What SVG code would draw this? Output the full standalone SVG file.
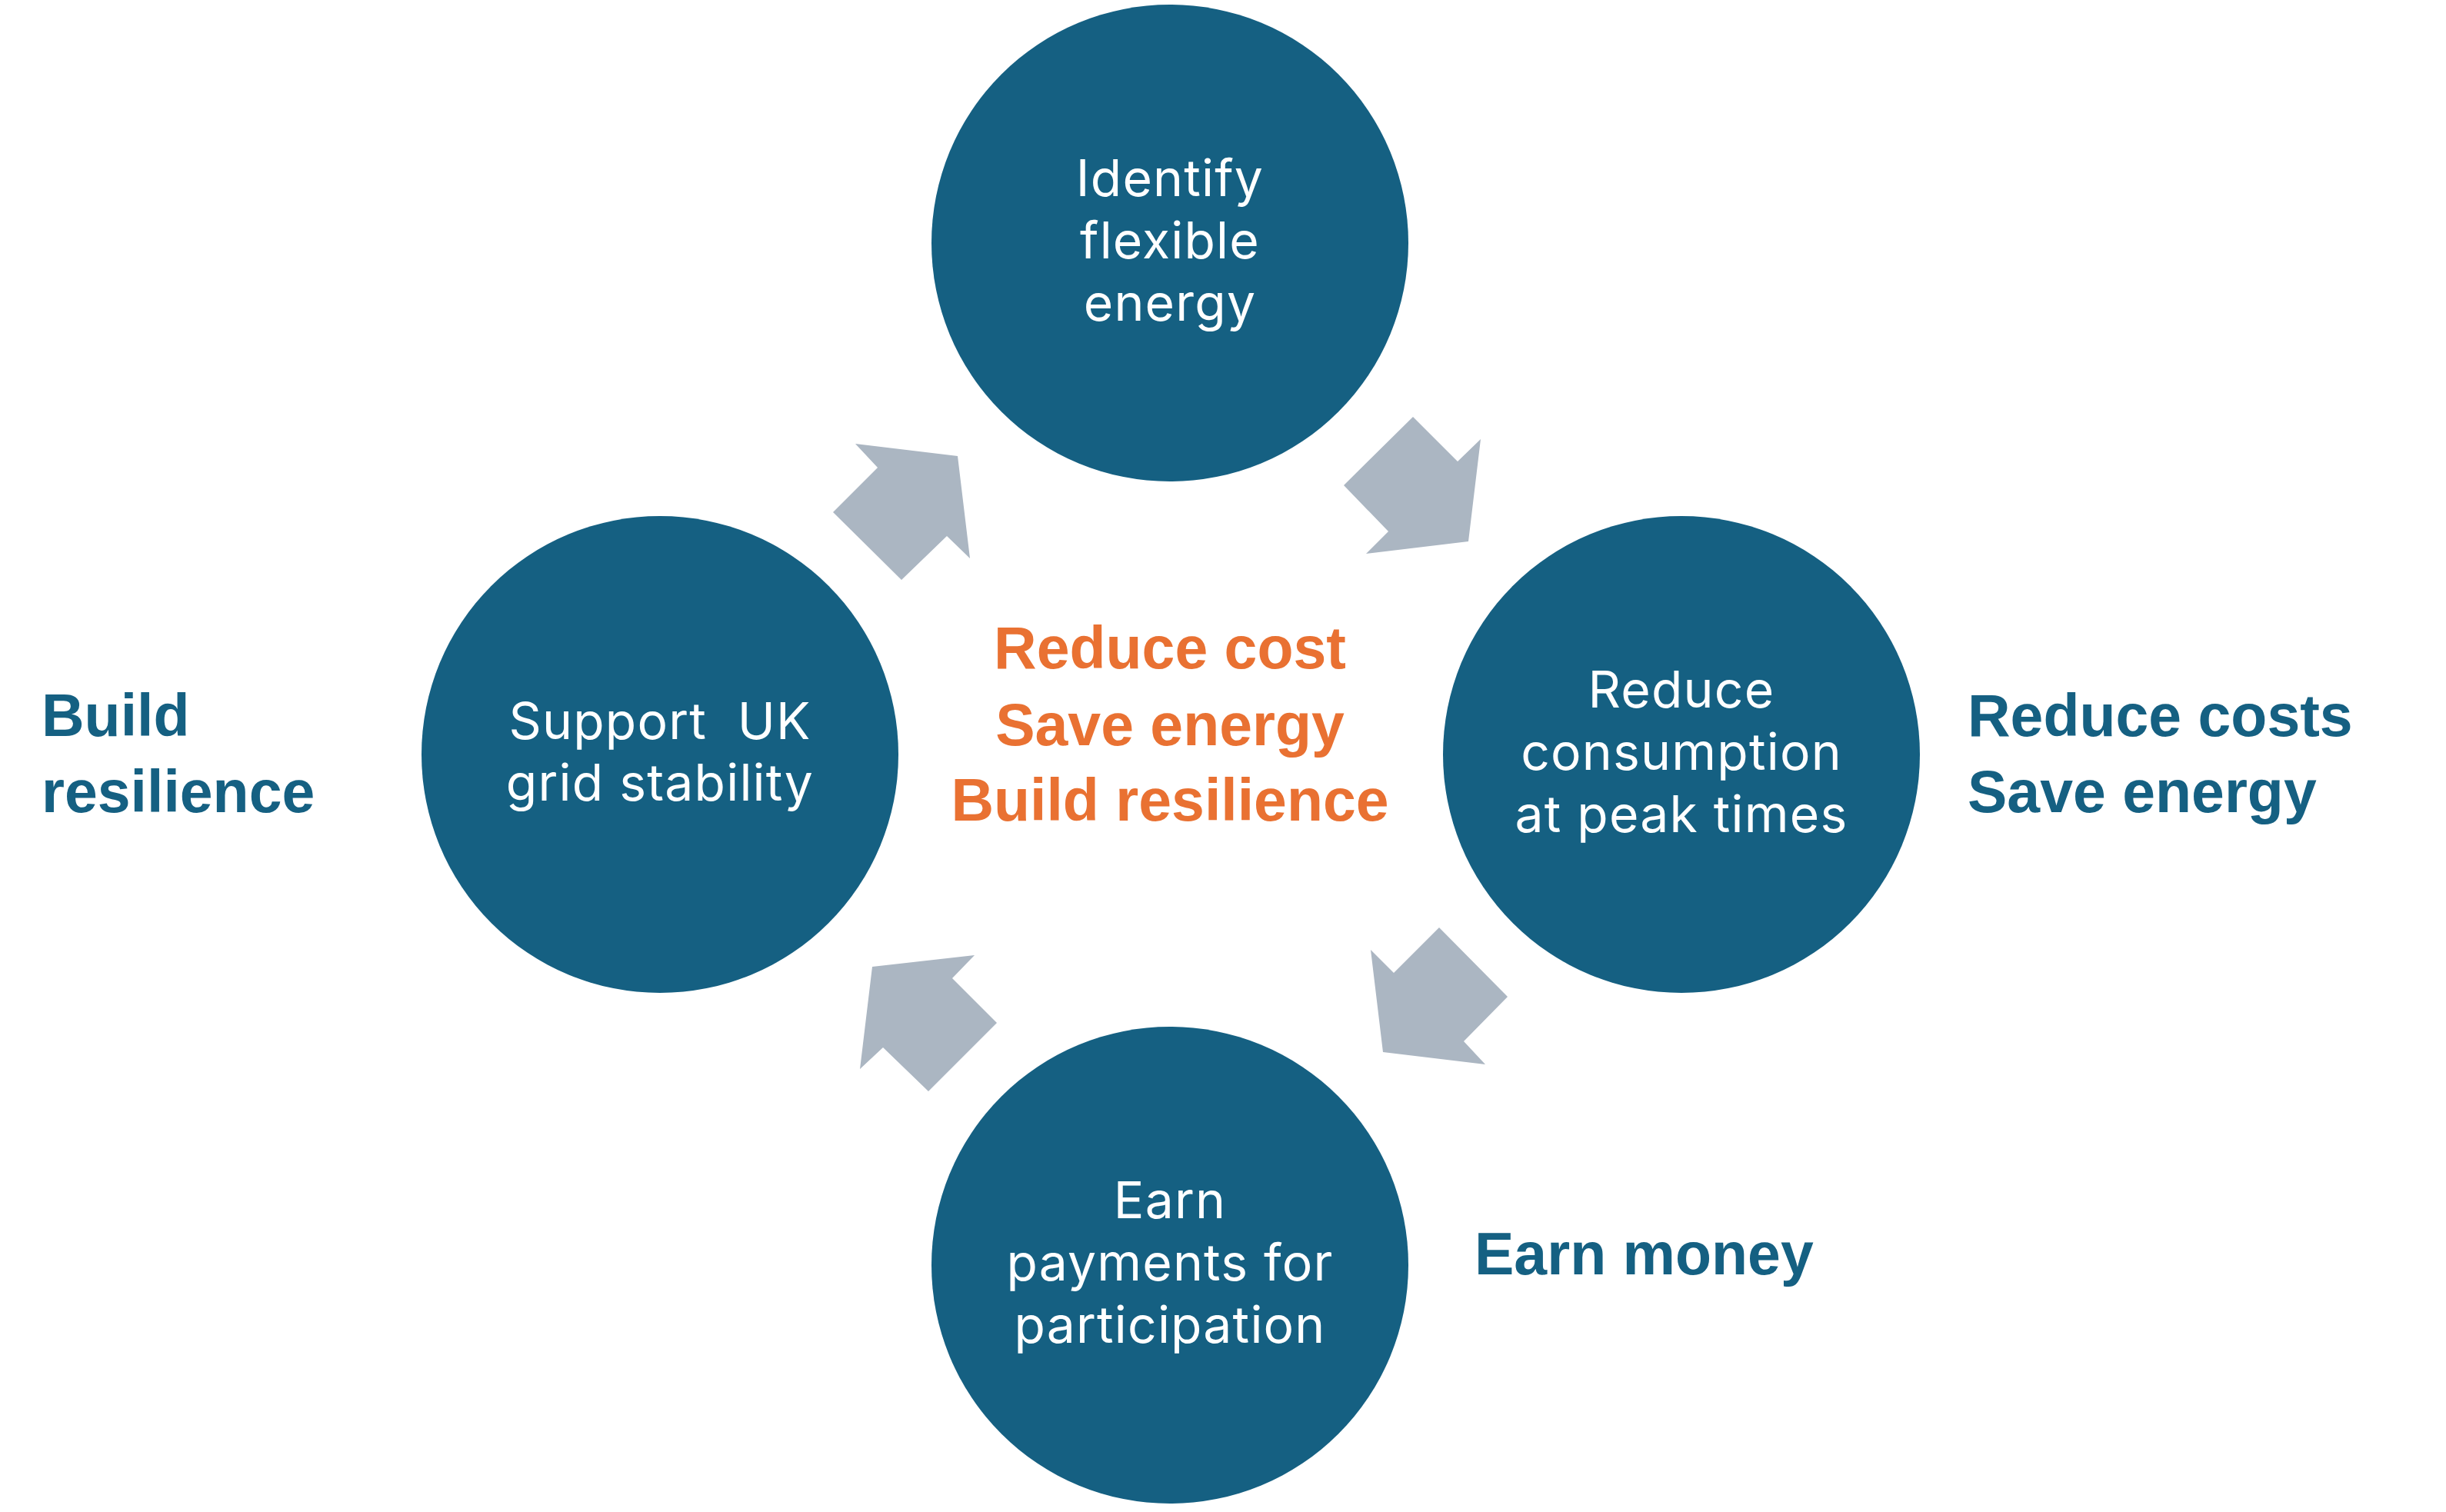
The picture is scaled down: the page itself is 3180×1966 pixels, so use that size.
<svg xmlns="http://www.w3.org/2000/svg" width="3180" height="1966" viewBox="0 0 3180 1966">
<style>
.node circle{fill:#156082}
.nt{font-family:Inter,"Noto Sans",sans-serif;font-size:66px;letter-spacing:1.2px;fill:#ffffff;text-anchor:middle}
.lbl{font-family:"Liberation Sans",Arial,sans-serif;font-weight:bold;font-size:77px;fill:#156082}
.ctr{font-family:"Liberation Sans",Arial,sans-serif;font-weight:bold;font-size:77px;fill:#E97132;text-anchor:middle}
.arr{fill:#ABB6C2}
</style>
<rect width="3180" height="1966" fill="#ffffff"/>
<g id="connectors">
<polygon class="arr" points="1837,542 1895,600 1925,571 1909,704 1776,720 1805,691 1747,631"/>
<polygon class="arr" points="1871,1206 1960,1296 1903,1354 1931,1384 1798,1368 1782,1235 1812,1265"/>
<polygon class="arr" points="1134,1257 1267,1242 1238,1272 1296,1330 1207,1419 1148,1362 1118,1390"/>
<polygon class="arr" points="1112,577 1245,593 1261,726 1231,697 1172,754 1083,666 1141,608"/>
</g>
<g id="node-identify" class="node">
<circle cx="1521" cy="316" r="310"/>
<text class="nt" x="1521" y="255">Identify</text>
<text class="nt" x="1521" y="336">flexible</text>
<text class="nt" x="1521" y="417">energy</text>
</g>
<g id="node-reduce" class="node">
<circle cx="2186" cy="981" r="310"/>
<text class="nt" x="2186" y="920">Reduce</text>
<text class="nt" x="2186" y="1001">consumption</text>
<text class="nt" x="2186" y="1082">at peak times</text>
</g>
<g id="node-earn" class="node">
<circle cx="1521" cy="1645" r="310"/>
<text class="nt" x="1521" y="1584">Earn</text>
<text class="nt" x="1521" y="1665">payments for</text>
<text class="nt" x="1521" y="1746">participation</text>
</g>
<g id="node-support" class="node">
<circle cx="858" cy="981" r="310"/>
<text class="nt" x="858" y="961" xml:space="preserve">Support  UK</text>
<text class="nt" x="858" y="1041">grid stability</text>
</g>
<g id="center-text">
<text class="ctr" x="1521" y="869">Reduce cost</text>
<text class="ctr" x="1521" y="969">Save energy</text>
<text class="ctr" x="1521" y="1067">Build resilience</text>
</g>
<g id="label-left">
<text class="lbl" x="54" y="957">Build</text>
<text class="lbl" x="54" y="1056">resilience</text>
</g>
<g id="label-right">
<text class="lbl" x="2558" y="957">Reduce costs</text>
<text class="lbl" x="2558" y="1056">Save energy</text>
</g>
<g id="label-bottom">
<text class="lbl" x="1917" y="1657">Earn money</text>
</g>
</svg>
